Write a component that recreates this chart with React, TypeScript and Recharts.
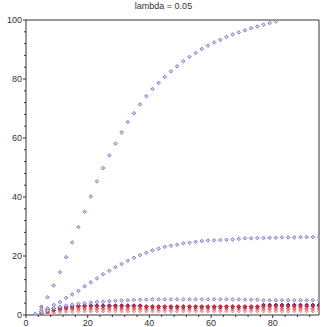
import React from 'react';
import { ScatterChart, Scatter, XAxis, YAxis, ReferenceLine } from 'recharts';

const xs = [3, 5, 7, 9, 11, 13, 15, 17, 19, 21, 23, 25, 27, 29, 31, 33, 35, 37, 39, 41, 43, 45, 47, 49,
  51, 53, 55, 57, 59, 61, 63, 65, 67, 69, 71, 73, 75, 77, 79, 81, 83, 85, 87, 89, 91, 93, 95];

// top curve leaves the frame after x = 81
const seriesA = [0.3, 2, 6, 10, 14.5, 19.6, 24.6, 29.8, 35, 40.2, 45.3, 49.8, 54.1, 58.1, 61.9, 65.4, 68.4,
  71.4, 74.2, 76.6, 78.7, 80.7, 82.6, 84.3, 86, 87.5, 88.8, 90.2, 91.3, 92.4, 93.3, 94.3, 95.1, 95.8,
  96.5, 97.2, 97.8, 98.4, 99, 99.5];
const seriesB = [0.2, 1.2, 2.3, 3.4, 4.4, 5.8, 7, 8.2, 9.7, 11.1, 12.4, 13.8, 15, 16.2, 17.3, 18.4, 19.4,
  20.3, 21.1, 21.9, 22.5, 23.1, 23.5, 23.8, 24.3, 24.5, 24.8, 25.1, 25.3, 25.3, 25.4, 25.5, 25.6, 25.8,
  26, 26, 26.1, 26.1, 26.2, 26.2, 26.3, 26.3, 26.3, 26.4, 26.4, 26.4, 26.5];
const seriesC = [0, 0.8, 1.5, 2.3, 2.8, 3.2, 3.5, 3.8, 4.0, 4.2, 4.4, 4.5, 4.7, 4.8, 4.9, 5.0, 5.1, 5.2,
  5.2, 5.3, 5.3, 5.3, 5.3, 5.3, 5.3, 5.3, 5.3, 5.3, 5.3, 5.3, 5.3, 5.3, 5.3, 5.3, 5.2, 5.2, 5.2, 5.0,
  5.0, 5.0, 5.0, 5.0, 5.0, 5.0, 5.0, 5.0, 5.0];
const seriesD = [0.1, 1.2, 1.8, 2.2, 2.5, 2.8, 3.0, 3.2, 3.2, 3.2, 3.2, 3.2, 3.2, 3.2, 3.2, 3.2, 3.2, 3.2,
  2.8, 2.8, 2.8, 2.8, 2.8, 2.8, 2.8, 2.8, 2.8, 2.8, 2.8, 2.8, 2.8, 2.8, 2.8, 2.8, 2.8, 2.8, 2.8, 3.4,
  3.4, 3.4, 3.4, 3.4, 3.4, 3.4, 3.4, 3.4, 3.4];
const seriesE = [0, 0.5, 1.0, 1.6, 2.1, 2.4, 2.6, 2.9, 2.9, 2.9, 2.9, 2.9, 2.9, 2.9, 2.9, 2.9, 2.9, 2.9,
  2.9, 2.9, 2.9, 2.9, 2.9, 2.9, 2.9, 2.9, 2.9, 2.9, 2.9, 2.9, 2.9, 2.9, 2.9, 2.9, 2.9, 2.9, 2.9, 3.0,
  3.0, 3.0, 3.0, 3.0, 3.0, 3.0, 3.0, 3.0, 3.0];
const seriesF = [0, 2.8, 1.2, 1.5, 1.7, 1.9, 2.0, 2.1, 2.1, 2.1, 2.1, 2.1, 2.1, 2.1, 2.1, 2.1, 2.1, 2.1,
  2.1, 2.1, 2.1, 2.1, 2.1, 2.1, 2.1, 2.1, 2.1, 2.1, 2.1, 2.1, 2.1, 2.1, 2.1, 2.1, 2.1, 2.1, 2.1, 2.1,
  2.1, 2.1, 2.1, 2.1, 2.1, 2.1, 2.1, 2.1, 2.1];
const seriesG = [0, 0.3, 0.5, 0.8, 1.0, 1.1, 1.2, 1.3, 1.3, 1.3, 1.3, 1.3, 1.3, 1.3, 1.3, 1.3, 1.3, 1.3,
  1.3, 1.3, 1.3, 1.3, 1.3, 1.3, 1.3, 1.3, 1.3, 1.3, 1.3, 1.3, 1.3, 1.3, 1.3, 1.3, 1.3, 1.3, 1.3, 1.3,
  1.3, 1.3, 1.3, 1.3, 1.3, 1.3, 1.3, 1.3, 1.3];

const xTicks = [0, 4, 8, 12, 16, 20, 24, 28, 32, 36, 40, 44, 48, 52, 56, 60, 64, 68, 72, 76, 80, 84, 88, 92];
const yTicks = [0, 4, 8, 12, 16, 20, 24, 28, 32, 36, 40, 44, 48, 52, 56, 60, 64, 68, 72, 76, 80, 84, 88, 92, 96, 100];

const toPoints = (vals: number[]) => vals.map((y, i) => ({ x: xs[i], y }));

const layers = [
  { name: 'g', data: toPoints(seriesG), stroke: '#e59a8c', fill: '#f0b8ac' },
  { name: 'f', data: toPoints(seriesF), stroke: '#dc6070', fill: '#e88890' },
  { name: 'd', data: toPoints(seriesD), stroke: '#4a1c78', fill: '#5a2a8a' },
  { name: 'e', data: toPoints(seriesE), stroke: '#d01f30', fill: '#dc3040' },
  { name: 'c', data: toPoints(seriesC), stroke: '#8080c8', fill: '#cfcff0' },
  { name: 'b', data: toPoints(seriesB), stroke: '#8080c8', fill: '#cfcff0' },
  { name: 'a', data: toPoints(seriesA), stroke: '#8080c8', fill: '#cfcff0' },
];

const textColor = '#333';
const font = '"Liberation Sans", Arial, sans-serif';

const Diamond = (props: any) => {
  const { cx, cy, stroke, fill } = props;
  if (cx == null || cy == null) return null;
  const r = 1.8;
  return (
    <path
      d={`M${cx},${cy - r}L${cx + r},${cy}L${cx},${cy + r}L${cx - r},${cy}Z`}
      fill={fill}
      stroke={stroke}
      strokeWidth={1}
    />
  );
};

const XTick = (props: any) => {
  const { x, y, payload } = props;
  const major = payload.value % 20 === 0;
  return (
    <g>
      <line x1={x} x2={x} y1={y} y2={y + (major ? 3 : 2)} stroke={textColor} />
      {major && (
        <text x={x} y={y + 11} textAnchor="middle" fontSize={9} fill={textColor} fontFamily={font}>
          {payload.value}
        </text>
      )}
    </g>
  );
};

const YTick = (props: any) => {
  const { x, y, payload } = props;
  const major = payload.value % 20 === 0;
  return (
    <g>
      <line x1={x - (major ? 3 : 2)} x2={x} y1={y} y2={y} stroke={textColor} />
      {major && (
        <text x={x - 4} y={y + 3} textAnchor="end" fontSize={9} fill={textColor} fontFamily={font}>
          {payload.value}
        </text>
      )}
    </g>
  );
};

export default function App() {
  return (
    <div style={{ position: 'absolute', left: 0, top: 0, width: 327, height: 327, background: '#fff' }}>
      <div
        style={{
          position: 'absolute',
          top: 1,
          left: 0,
          width: 327,
          textAlign: 'center',
          fontSize: 9,
          fontFamily: font,
          color: textColor,
        }}
      >
        lambda = 0.05
      </div>
      <ScatterChart width={327} height={327} margin={{ top: 20, right: 8, bottom: 0, left: 0 }}>
        <XAxis
          type="number"
          dataKey="x"
          domain={[0, 95]}
          ticks={xTicks}
          interval={0}
          tick={<XTick />}
          tickLine={false}
          tickSize={0}
          tickMargin={0}
          height={12}
          stroke={textColor}
          allowDataOverflow
        />
        <YAxis
          type="number"
          dataKey="y"
          domain={[0, 100]}
          ticks={yTicks}
          interval={0}
          tick={<YTick />}
          tickLine={false}
          tickSize={0}
          tickMargin={0}
          width={26}
          stroke={textColor}
          allowDataOverflow
        />
        <ReferenceLine y={100} stroke={textColor} />
        <ReferenceLine x={95} stroke={textColor} />
        {layers.map((s) => (
          <Scatter
            key={s.name}
            data={s.data}
            isAnimationActive={false}
            shape={(p: any) => <Diamond {...p} stroke={s.stroke} fill={s.fill} />}
          />
        ))}
      </ScatterChart>
    </div>
  );
}
